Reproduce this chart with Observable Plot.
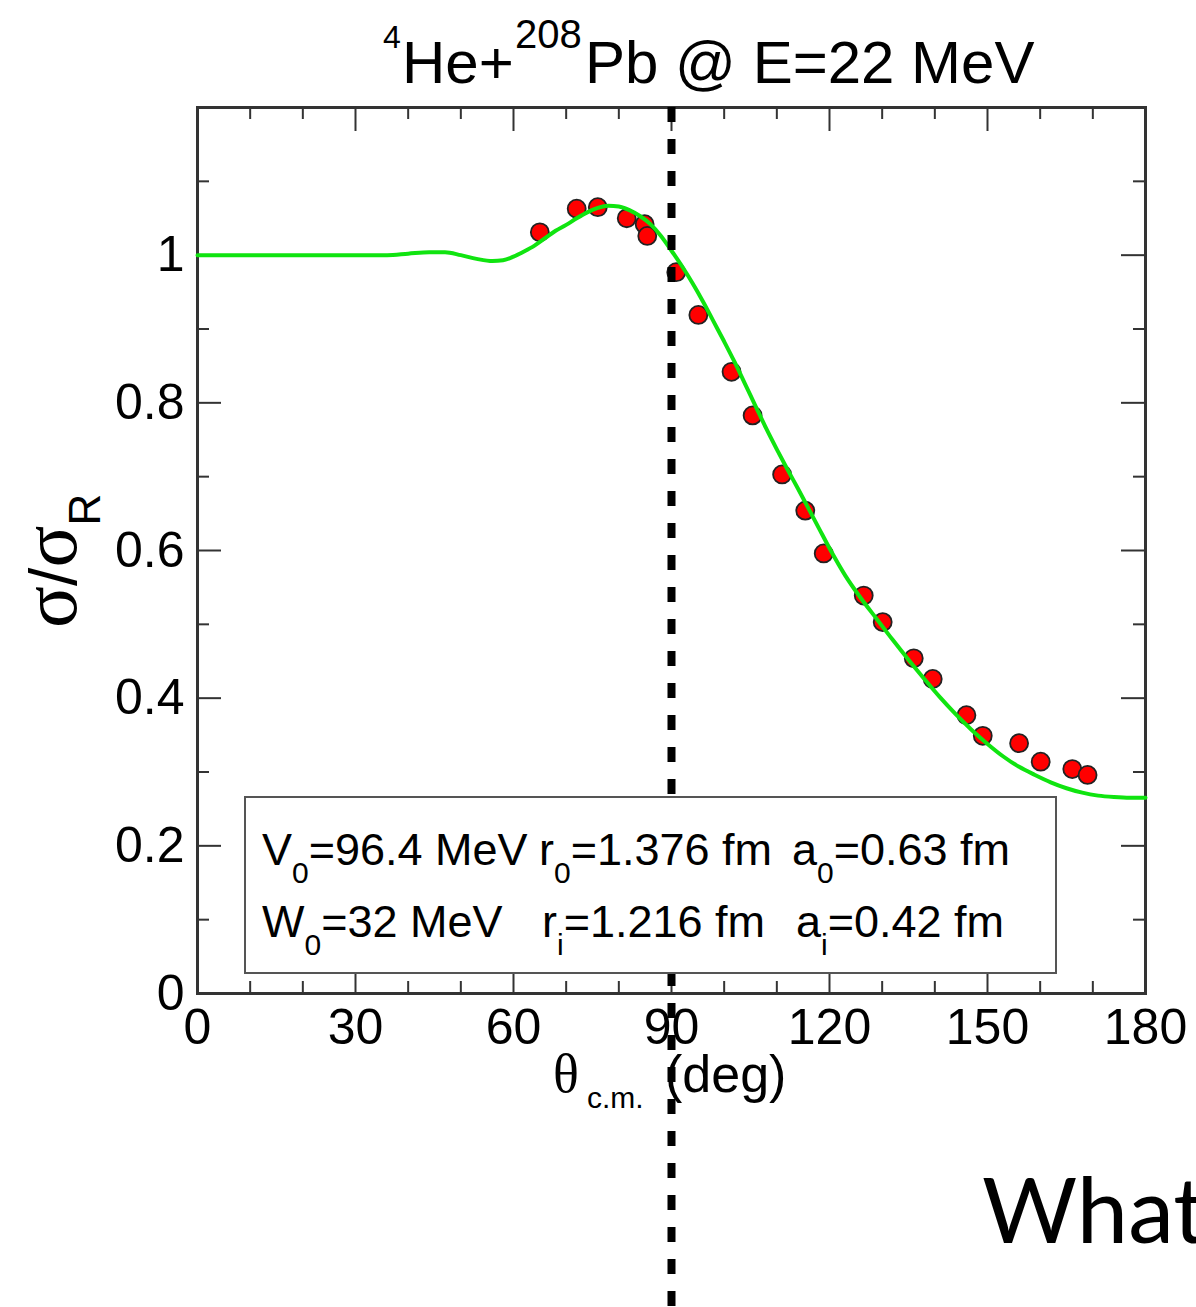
<!DOCTYPE html>
<html>
<head>
<meta charset="utf-8">
<script src="https://cdn.jsdelivr.net/npm/d3@7"></script>
<script src="https://cdn.jsdelivr.net/npm/@observablehq/plot@0.6"></script>
<style>
  html, body { margin: 0; padding: 0; background: #fff; overflow: hidden; }
  #wrap { position: relative; width: 1196px; height: 1307px; overflow: hidden; }
  #wrap svg { position: absolute; left: 0; top: 0; }
</style>
</head>
<body>
<div id="wrap"></div>
<script>
// ---- data ----
const dataTheta = [65.0, 72.0, 76.0, 81.5, 84.9, 85.4, 90.9, 95.1, 101.4, 105.4, 111.0, 115.4, 118.9, 126.5, 130.1, 136.0, 139.6, 146.0, 149.1, 156.0, 160.1, 166.1, 169.0];
const dataRatio = [1.031, 1.063, 1.065, 1.050, 1.042, 1.026, 0.977, 0.919, 0.842, 0.783, 0.703, 0.654, 0.596, 0.539, 0.503, 0.454, 0.426, 0.377, 0.349, 0.339, 0.314, 0.304, 0.296];

const curveTheta = [0, 10, 20, 30, 36, 40, 44, 47, 50, 53, 56, 58, 60, 62, 64, 66, 68, 70, 72, 74, 76, 78, 80, 82, 84, 86, 88, 90, 92, 94, 96, 98, 100, 102, 104, 106, 108, 110, 112, 114, 116, 118, 120, 123, 126, 129, 132, 135, 138, 141, 144, 147, 150, 153, 156, 159, 162, 165, 168, 171, 174, 177, 180];
const curveRatio = [1.000, 1.000, 1.000, 1.000, 1.000, 1.002, 1.004, 1.004, 1.000, 0.995, 0.992, 0.993, 0.998, 1.005, 1.013, 1.023, 1.033, 1.041, 1.050, 1.058, 1.064, 1.067, 1.066, 1.061, 1.053, 1.042, 1.026, 1.006, 0.985, 0.962, 0.937, 0.910, 0.883, 0.855, 0.825, 0.795, 0.765, 0.737, 0.710, 0.684, 0.657, 0.630, 0.603, 0.566, 0.535, 0.507, 0.479, 0.452, 0.426, 0.401, 0.378, 0.357, 0.338, 0.321, 0.307, 0.296, 0.286, 0.278, 0.272, 0.268, 0.266, 0.265, 0.265];

const xMajorTicks = [0, 30, 60, 90, 120, 150, 180];
const xTickLabels = ["0", "30", "60", "90", "120", "150", "180"];
const xMinorTicks = [10, 20, 40, 50, 70, 80, 100, 110, 130, 140, 160, 170];
const yMajorTicks = [0, 0.2, 0.4, 0.6, 0.8, 1.0, 1.2];
const yTickLabels = ["0", "0.2", "0.4", "0.6", "0.8", "1", ""];
const yMinorTicks = [0.1, 0.3, 0.5, 0.7, 0.9, 1.1];
const dividerTheta = [90];

// ---- layout ----
const W = 1196, H = 1307;
const mL = 197, mR = 51, mT = 107, mB = 314;
const FW = W - mL - mR, FH = H - mT - mB;
const SANS = "'Liberation Sans', Arial, Helvetica, sans-serif";
const SERIF = "'Liberation Serif', 'Times New Roman', serif";
const AXIS = "#333";

const points = dataTheta.map((t, i) => ({theta: t, ratio: dataRatio[i]}));
const curve = curveTheta.map((t, i) => ({theta: t, ratio: curveRatio[i]}));
const xLab = new Map(xMajorTicks.map((d, i) => [d, xTickLabels[i]]));
const yLab = new Map(yMajorTicks.map((d, i) => [d, yTickLabels[i]]));

const svg = Plot.plot({
  width: W, height: H,
  marginLeft: mL, marginRight: mR, marginTop: mT, marginBottom: mB,
  style: {fontFamily: SANS, background: "transparent", color: "#000", overflow: "visible"},
  x: {domain: [0, 180]},
  y: {domain: [0, 1.2]},
  marks: [
    Plot.tickX(xMajorTicks, {insetTop: FH - 19, stroke: AXIS, strokeWidth: 2}),
    Plot.tickX(xMinorTicks, {insetTop: FH - 12, stroke: AXIS, strokeWidth: 2}),
    Plot.tickX(xMajorTicks, {insetBottom: FH - 24, stroke: AXIS, strokeWidth: 2}),
    Plot.tickX(xMinorTicks, {insetBottom: FH - 12, stroke: AXIS, strokeWidth: 2}),
    Plot.tickY(yMajorTicks, {insetRight: FW - 24, stroke: AXIS, strokeWidth: 2}),
    Plot.tickY(yMinorTicks, {insetRight: FW - 12, stroke: AXIS, strokeWidth: 2}),
    Plot.tickY(yMajorTicks, {insetLeft: FW - 24, stroke: AXIS, strokeWidth: 2}),
    Plot.tickY(yMinorTicks, {insetLeft: FW - 12, stroke: AXIS, strokeWidth: 2}),
    Plot.axisX(xMajorTicks, {tickSize: 0, tickPadding: 15, fontSize: 50, tickFormat: d => xLab.get(d), label: null}),
    Plot.axisY(yMajorTicks, {tickSize: 0, tickPadding: 13, fontSize: 50, tickFormat: d => yLab.get(d), label: null}),
    Plot.frame({stroke: AXIS, strokeWidth: 3}),
    Plot.dot(points, {x: "theta", y: "ratio", r: 9, fill: "#ff0000", stroke: "#222", strokeWidth: 1.8}),
    Plot.line(curve, {x: "theta", y: "ratio", stroke: "#10e410", strokeWidth: 4, curve: "monotone-x"}),
    Plot.ruleX(dividerTheta, {y1: 1.2, y2: -0.46, stroke: "#000", strokeWidth: 8, strokeDasharray: "15,17"})
  ]
});

document.getElementById("wrap").appendChild(svg);
const s = d3.select(svg);

function addText(x, y, parts, base, family, transform) {
  const t = s.append("text").attr("x", x).attr("y", y).attr("fill", "#000")
    .attr("text-anchor", "start")
    .style("font-family", family || SANS).style("font-size", base + "px");
  if (transform) t.attr("transform", transform);
  let prev = 0;
  for (const p of parts) {
    const ts = t.append("tspan").text(p.t);
    if (p.size) ts.style("font-size", p.size + "px");
    if (p.family) ts.style("font-family", p.family);
    if (p.x != null) ts.attr("x", p.x);
    const sh = p.shift || 0;
    if (sh - prev !== 0) ts.attr("dy", sh - prev);
    prev = sh;
  }
  return t;
}

// title
addText(383, 83, [
  {t: "4", size: 32, shift: -35, x: 383},
  {t: "He+", x: 402},
  {t: "208", size: 40, shift: -35, x: 515},
  {t: "Pb @ E=22 MeV", x: 585}
], 60);

// legend box
s.append("rect").attr("x", 245).attr("y", 797).attr("width", 811).attr("height", 176)
  .attr("fill", "#fff").attr("stroke", "#555").attr("stroke-width", 2);
addText(262, 865, [
  {t: "V"}, {t: "0", size: 30, shift: 18}, {t: "=96.4 MeV"},
  {t: "r", x: 539}, {t: "0", size: 30, shift: 18}, {t: "=1.376 fm"},
  {t: "a", x: 792}, {t: "0", size: 30, shift: 18}, {t: "=0.63 fm"}
], 45);
addText(262, 937, [
  {t: "W"}, {t: "0", size: 30, shift: 18}, {t: "=32 MeV"},
  {t: "r", x: 542}, {t: "i", size: 30, shift: 18}, {t: "=1.216 fm"},
  {t: "a", x: 796}, {t: "i", size: 30, shift: 18}, {t: "=0.42 fm"}
], 45);

// x-axis label
addText(553, 1092, [
  {t: "θ", family: SERIF, size: 54},
  {t: "c.m.", size: 30, shift: 16, x: 587},
  {t: "(deg)", x: 665}
], 52);

// y-axis label (rotated)
addText(0, 0, [
  {t: "σ", family: SERIF, size: 78},
  {t: "/", size: 66},
  {t: "σ", family: SERIF, size: 78},
  {t: "R", size: 44, shift: 24}
], 66, SANS, "translate(76,628) rotate(-90)");

// trailing slide text
s.append("text").attr("x", 982).attr("y", 1243).attr("fill", "#000").attr("text-anchor", "start")
  .style("font-family", "Lato, 'Open Sans', sans-serif").style("font-size", "92px").text("What");
</script>
</body>
</html>
